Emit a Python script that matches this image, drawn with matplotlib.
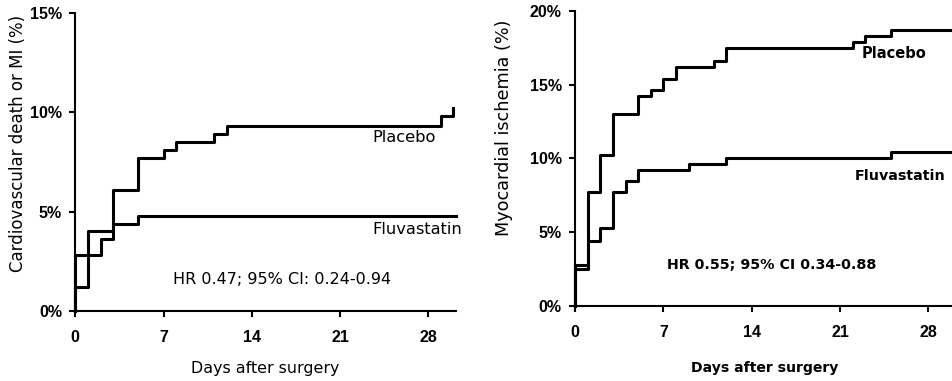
import matplotlib
matplotlib.use("Agg")
import matplotlib.pyplot as plt
from matplotlib.ticker import FuncFormatter

# left panel: cardiovascular death or MI
cv_placebo_days = [0, 0, 1, 3, 5, 7, 8, 11, 12, 29, 30]
cv_placebo_pct = [0, 1.2, 4.0, 6.1, 7.7, 8.1, 8.5, 8.9, 9.3, 9.8, 10.2]
cv_fluva_days = [0, 0, 2, 3, 5, 30.2]
cv_fluva_pct = [0, 2.8, 3.6, 4.4, 4.8, 4.8]

# right panel: myocardial ischemia
mi_placebo_days = [0, 0, 1, 2, 3, 5, 6, 7, 8, 11, 12, 22, 23, 25, 30]
mi_placebo_pct = [0, 2.8, 7.7, 10.2, 13.0, 14.2, 14.65, 15.4, 16.2, 16.6, 17.45, 17.9, 18.3, 18.7, 18.7]
mi_fluva_days = [0, 0, 1, 2, 3, 4, 5, 9, 12, 25, 30]
mi_fluva_pct = [0, 2.5, 4.4, 5.25, 7.7, 8.45, 9.2, 9.6, 10.05, 10.45, 10.45]

day_ticks = [0, 7, 14, 21, 28]

txt_font = "DejaVu Sans"
tick_font = "Liberation Sans"

fig = plt.figure(figsize=(9.53, 3.81), dpi=100)
ax1 = fig.add_axes([0.079, 0.1837, 0.3995, 0.783])
ax2 = fig.add_axes([0.6034, 0.1969, 0.3973, 0.775])


def style_axes(ax, xmax, ymax, yticks):
    ax.set_xlim(0, xmax)
    ax.set_ylim(0, ymax)
    for side in ("top", "right"):
        ax.spines[side].set_visible(False)
    for side in ("left", "bottom"):
        ax.spines[side].set_linewidth(1.5)
        ax.spines[side].set_color("black")
    ax.set_xticks(day_ticks)
    ax.set_yticks(yticks)
    ax.yaxis.set_major_formatter(FuncFormatter(lambda v, p: "%d%%" % v))
    ax.tick_params(axis="both", direction="out", length=4.5, width=1.5, color="black")
    ax.tick_params(axis="x", pad=9)
    ax.tick_params(axis="y", pad=5)
    for lab in ax.get_xticklabels() + ax.get_yticklabels():
        lab.set_fontfamily(tick_font)
        lab.set_fontweight("bold")
        lab.set_fontsize(11.5)


ax1.step(cv_placebo_days, cv_placebo_pct, where="post", color="black", lw=2.2, clip_on=False)
ax1.step(cv_fluva_days, cv_fluva_pct, where="post", color="black", lw=2.2, clip_on=False)
style_axes(ax1, 30.2, 15, [0, 5, 10, 15])
ax1.text(23.6, 8.7, "Placebo", fontsize=11.7, family=txt_font, va="center")
ax1.text(23.6, 4.1, "Fluvastatin", fontsize=11.7, family=txt_font, va="center")
ax1.text(16.4, 1.6, "HR 0.47; 95% CI: 0.24-0.94", fontsize=11.5, family=txt_font,
         ha="center", va="center")
ax1.set_xlabel("Days after surgery", fontsize=11.4, family=txt_font)
ax1.xaxis.set_label_coords(0.5, -0.168)
ax1.set_ylabel("Cardiovascular death or MI (%)", fontsize=12, family=txt_font)
ax1.yaxis.set_label_coords(-0.127, 0.5615)

ax2.step(mi_placebo_days, mi_placebo_pct, where="post", color="black", lw=2.2, clip_on=False)
ax2.step(mi_fluva_days, mi_fluva_pct, where="post", color="black", lw=2.2, clip_on=False)
style_axes(ax2, 30, 20, [0, 5, 10, 15, 20])
ax2.text(22.7, 17.1, "Placebo", fontsize=10.5, family=txt_font, weight="bold", va="center")
ax2.text(22.2, 8.8, "Fluvastatin", fontsize=10.3, family=txt_font, weight="bold", va="center")
ax2.text(15.6, 2.78, "HR 0.55; 95% CI 0.34-0.88", fontsize=10.3, family=txt_font,
         weight="bold", ha="center", va="center")
ax2.set_xlabel("Days after surgery", fontsize=10.1, family=txt_font, weight="bold")
ax2.xaxis.set_label_coords(0.5, -0.186)
ax2.set_ylabel("Myocardial ischemia (%)", fontsize=12.7, family=txt_font)
ax2.yaxis.set_label_coords(-0.164, 0.603)

fig.savefig("out.png", dpi=100)
